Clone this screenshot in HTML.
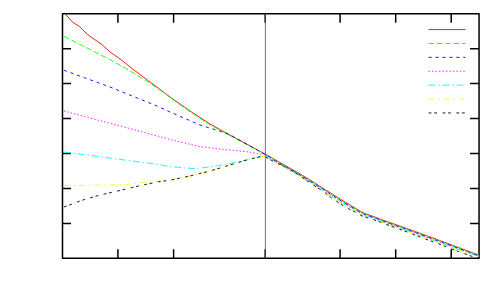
<!DOCTYPE html>
<html><head><meta charset="utf-8"><title>plot</title>
<style>
html,body{margin:0;padding:0;background:#fff;font-family:"Liberation Sans",sans-serif;}
svg{display:block;}
</style></head><body>
<svg width="500" height="300" viewBox="0 0 500 300">
<rect width="500" height="300" fill="#fff"/>
<path d="M117.90,258.35 V249.35000000000002 M117.90,13.7 V22.7 M173.60,258.35 V249.35000000000002 M173.60,13.7 V22.7 M265.20,258.35 V249.35000000000002 M265.20,13.7 V22.7 M340.10,258.35 V249.35000000000002 M340.10,13.7 V22.7 M395.70,258.35 V249.35000000000002 M395.70,13.7 V22.7 M451.20,258.35 V249.35000000000002 M451.20,13.7 V22.7 M62.5,48.65 H71.0 M479.05,48.65 H470.05 M62.5,83.60 H71.0 M479.05,83.60 H470.05 M62.5,118.55 H71.0 M479.05,118.55 H470.05 M62.5,153.50 H71.0 M479.05,153.50 H470.05 M62.5,188.45 H71.0 M479.05,188.45 H470.05 M62.5,223.40 H71.0 M479.05,223.40 H470.05" stroke="#000" stroke-width="1.5" fill="none"/>
<rect x="62.5" y="13.7" width="416.55" height="244.65" fill="none" stroke="#000" stroke-width="1.5" stroke-linejoin="round"/>
<g fill="none" stroke-width="0.9" stroke-linejoin="round">
<path d="M65.00,13.50 L72.40,22.00 L79.60,26.60 L87.60,34.60 L102.00,44.60 L110.00,52.00 L119.00,58.20 L134.00,70.00 L157.00,87.20 L170.00,97.00 L190.00,111.00 L210.00,124.00 L230.00,135.00 L265.50,154.30 L270.00,156.85 L271.50,157.70 L275.00,159.69 L284.50,165.08 L294.00,170.46 L299.00,173.30 L310.00,180.00 L314.00,182.53 L319.50,186.02 L326.00,190.13 L330.50,192.98 L337.00,197.10 L340.00,199.00 L342.00,200.20 L349.00,204.40 L350.00,205.00 L354.00,207.40 L360.00,211.00 L361.00,211.52 L365.00,213.60 L366.50,214.11 L374.50,216.83 L375.00,217.00 L380.00,219.00 L390.00,222.55 L404.00,227.52 L409.00,229.30 L429.00,236.50 L431.80,237.55 L440.00,240.61 L440.20,240.69 L458.20,247.42 L471.40,252.36 L479.00,255.20" stroke="#ff0000"/>
<path d="M428.6,29.55 H465.4" stroke="#ff0000"/>
<path d="M64.00,36.30 L110.00,59.60 L128.00,69.60 L146.00,80.70 L158.00,88.50 L170.00,97.50 L190.00,111.70 L210.00,124.80 L230.00,135.50 L250.00,146.30 L265.50,154.40 L270.00,157.14 L271.50,158.06 L275.00,160.19 L284.50,165.58 L294.00,170.96 L299.00,173.80 L310.00,180.50 L314.00,183.03 L319.50,186.52 L326.00,190.64 L330.50,193.58 L337.00,197.70 L340.00,199.62 L342.00,200.84 L349.00,205.02 L350.00,205.61 L354.00,207.97 L360.00,211.56 L361.00,212.08 L365.00,214.11 L366.50,214.62 L374.50,217.33 L375.00,217.50 L380.00,219.50 L390.00,223.05 L404.00,228.02 L409.00,229.81 L429.00,237.05 L431.80,238.10 L440.00,241.15 L440.20,241.19 L458.20,247.85 L471.40,252.74 L479.00,255.55" stroke="#00ff00" stroke-dasharray="5.6 2.73"/>
<path d="M428.6,43.45 H465.4" stroke="#00ff00" stroke-dasharray="5.6 2.73"/>
<path d="M64.00,70.30 L110.00,87.00 L158.00,106.40 L170.00,112.00 L200.00,125.00 L220.00,131.20 L230.00,134.90 L265.50,154.60 L270.00,157.48 L271.50,158.45 L275.00,160.69 L284.50,166.08 L294.00,171.46 L299.00,174.30 L310.00,181.00 L314.00,183.53 L319.50,187.02 L326.00,191.15 L330.50,194.17 L337.00,198.30 L340.00,200.24 L342.00,201.48 L349.00,205.64 L350.00,206.22 L354.00,208.55 L360.00,212.12 L361.00,212.65 L365.00,214.61 L366.50,215.13 L374.50,217.83 L375.00,218.00 L380.00,220.00 L390.00,223.55 L404.00,228.52 L409.00,230.32 L429.00,237.60 L431.80,238.65 L440.00,241.69 L440.20,241.69 L458.20,248.28 L471.40,253.12 L479.00,255.90" stroke="#0000ff" stroke-dasharray="3.1 3.84"/>
<path d="M428.6,57.35 H465.4" stroke="#0000ff" stroke-dasharray="3.1 3.84"/>
<path d="M64.00,111.00 L159.00,136.40 L180.00,142.00 L200.00,146.60 L220.00,149.00 L230.00,150.00 L249.00,152.00 L265.50,154.80 L270.00,157.83 L271.50,158.83 L275.00,161.19 L284.50,166.58 L294.00,171.96 L299.00,174.80 L310.00,181.50 L314.00,184.03 L319.50,187.52 L326.00,191.65 L330.50,194.77 L337.00,198.91 L340.00,200.86 L342.00,202.12 L349.00,206.26 L350.00,206.83 L354.00,209.12 L360.00,212.67 L361.00,213.21 L365.00,215.12 L366.50,215.63 L374.50,218.33 L375.00,218.50 L380.00,220.50 L390.00,224.05 L404.00,229.02 L409.00,230.83 L429.00,238.15 L431.80,239.20 L440.00,242.23 L440.20,242.19 L458.20,248.71 L471.40,253.50 L479.00,256.25" stroke="#ff00ff" stroke-dasharray="1.4 2.07"/>
<path d="M428.6,71.25 H465.4" stroke="#ff00ff" stroke-dasharray="1.4 2.07"/>
<path d="M64.00,152.00 L158.00,164.40 L170.00,166.60 L194.00,168.60 L210.00,167.00 L230.00,163.40 L249.00,159.30 L260.00,156.60 L265.50,155.90 L270.00,158.69 L271.50,159.62 L275.00,161.79 L284.50,167.18 L294.00,172.56 L299.00,175.40 L310.00,182.10 L314.00,184.63 L319.50,188.12 L326.00,192.26 L330.50,195.48 L337.00,199.63 L340.00,201.61 L342.00,202.88 L349.00,207.01 L350.00,207.57 L354.00,209.81 L360.00,213.34 L361.00,213.88 L365.00,215.72 L366.50,216.25 L374.50,218.93 L375.00,219.10 L380.00,221.10 L390.00,224.65 L404.00,229.62 L409.00,231.44 L429.00,238.81 L431.80,239.86 L440.00,242.88 L440.20,242.79 L458.20,249.23 L471.40,253.95 L479.00,256.67" stroke="#00ffff" stroke-dasharray="7.0 2.72 1.45 2.72"/>
<path d="M428.6,85.15 H465.4" stroke="#00ffff" stroke-dasharray="7.0 2.72 1.45 2.72"/>
<path d="M64.00,185.60 L110.00,185.00 L128.00,184.30 L144.00,182.50 L159.00,181.00 L170.00,180.00 L190.00,176.00 L210.00,171.00 L230.00,165.00 L250.00,159.00 L260.00,156.70 L265.50,156.30 L270.00,159.18 L271.50,160.15 L275.00,162.39 L284.50,167.78 L294.00,173.16 L299.00,176.00 L310.00,182.70 L314.00,185.23 L319.50,188.72 L326.00,192.87 L330.50,196.19 L337.00,200.35 L340.00,202.35 L342.00,203.65 L349.00,207.75 L350.00,208.30 L354.00,210.50 L360.00,214.01 L361.00,214.56 L365.00,216.33 L366.50,216.85 L374.50,219.53 L375.00,219.70 L380.00,221.70 L390.00,225.25 L404.00,230.22 L409.00,232.05 L429.00,239.47 L431.80,240.52 L440.00,243.52 L440.20,243.38 L458.20,249.74 L471.40,254.41 L479.00,257.09" stroke="#ffff00" stroke-dasharray="5.6 4.11 1.45 4.11"/>
<path d="M428.6,99.05 H465.4" stroke="#ffff00" stroke-dasharray="5.6 4.11 1.45 4.11"/>
<path d="M64.00,207.00 L84.00,199.60 L100.00,195.00 L120.00,190.50 L140.00,185.60 L159.00,181.70 L170.00,180.20 L190.00,176.00 L210.00,171.00 L230.00,165.00 L250.00,159.00 L260.00,156.80 L265.50,157.00 L271.50,160.50 L284.50,166.50 L294.00,171.80 L314.00,185.50 L319.50,189.00 L326.00,193.50 L330.50,197.30 L337.00,201.50 L342.00,205.00 L349.00,209.00 L354.00,211.50 L361.00,215.50 L366.50,217.50 L374.50,220.00 L380.00,222.00 L390.00,225.80 L404.00,230.80 L431.80,241.40 L440.20,244.40 L458.20,251.40 L471.40,256.20 L479.00,257.80" stroke="#000000" stroke-dasharray="2.85 2.71 2.85 5.48"/>
<path d="M428.6,112.95 H465.4" stroke="#000000" stroke-dasharray="2.85 2.71 2.85 5.48"/>
<path d="M265.4,13.7 V258.35" stroke="#ff0000" stroke-width="0.78"/>
</g>
</svg>
</body></html>
